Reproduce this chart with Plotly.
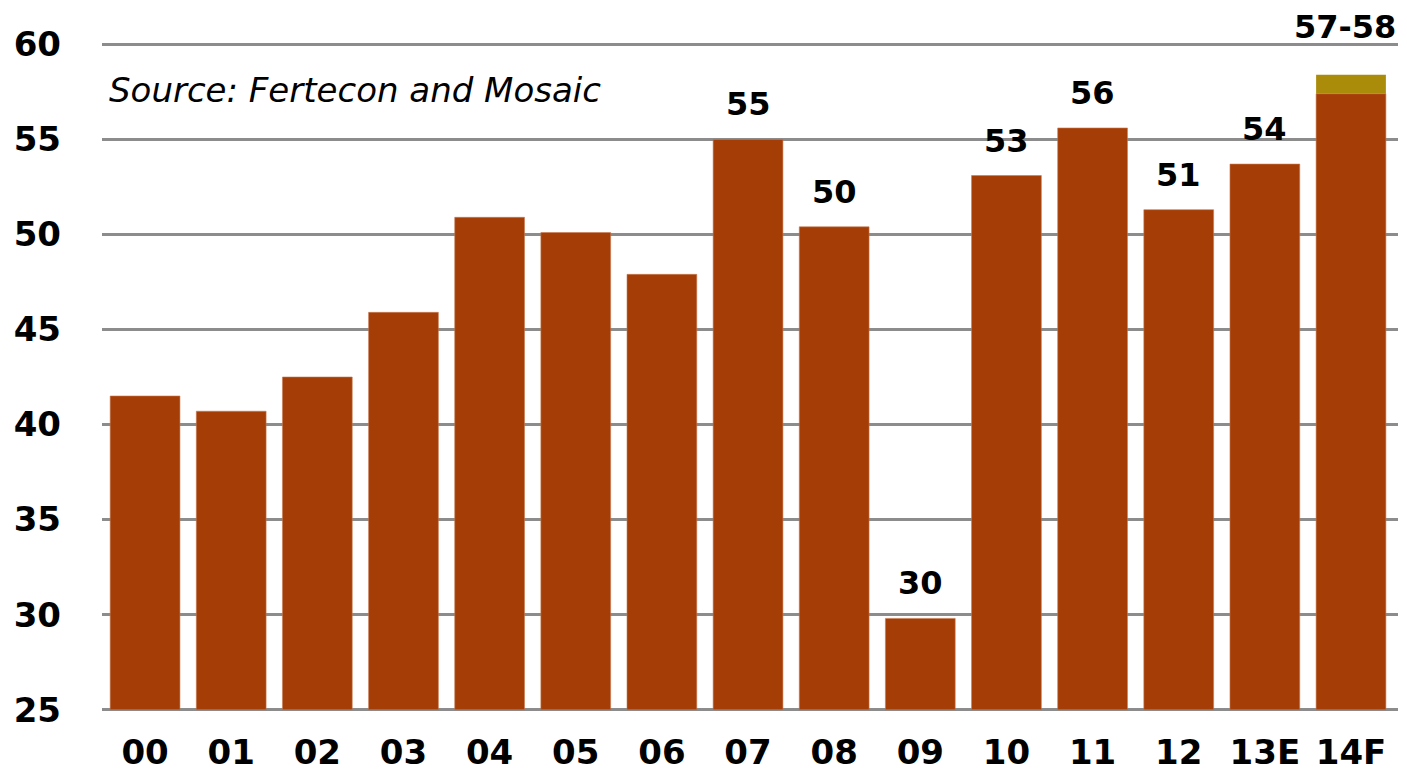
import plotly.graph_objects as go

categories = ["00", "01", "02", "03", "04", "05", "06", "07", "08", "09", "10", "11", "12", "13E", "14F"]
base_values = [41.5, 40.7, 42.5, 45.9, 50.9, 50.1, 47.9, 55.0, 50.4, 29.8, 53.1, 55.6, 51.3, 53.7, 57.4]
range_values = [None] * 14 + [1.0]
label_categories = ["07", "08", "09", "10", "11", "12", "13E", "14F"]
label_values = [55.0, 50.4, 29.8, 53.1, 55.6, 51.3, 53.7, 58.4]
label_texts = ["55", "50", "30", "53", "56", "51", "54", "57-58"]
y_ticks = [25, 30, 35, 40, 45, 50, 55, 60]

BAR = "#A53D06"
GOLD = "#AA8C0A"
GRID = "#8C8C8C"
FONT = "DejaVu Sans, Liberation Sans, Arial, sans-serif"

fig = go.Figure()
fig.add_trace(go.Bar(x=categories, y=[v - 25 for v in base_values], base=25,
                     marker=dict(color=BAR, line=dict(color="#C87850", width=0.6)),
                     hoverinfo="skip"))
fig.add_trace(go.Bar(x=categories, y=range_values,
                     base=[None] * 14 + [base_values[-1]],
                     marker=dict(color=GOLD, line=dict(width=0)),
                     hoverinfo="skip"))

for c, v, t in zip(label_categories, label_values, label_texts):
    fig.add_annotation(x=c, y=v, text="<b>%s</b>" % t, showarrow=False,
                       yanchor="bottom", yshift=(27 if t == "57-58" else 14),
                       xshift=(-6 if t == "57-58" else 0),
                       font=dict(family=FONT, size=32, color="black"))

fig.add_annotation(xref="paper", yref="y", x=0.004, y=57.6, xanchor="left", yanchor="middle",
                   text="<i>Source: Fertecon and Mosaic</i>", showarrow=False,
                   font=dict(family=FONT, size=34, color="black"))

# page body has an 8px margin; figure sized so it ends at the window edge
fig.update_layout(
    width=1399, height=765,
    margin=dict(l=94, r=9, t=35, b=62),
    paper_bgcolor="white", plot_bgcolor="white",
    barmode="overlay", bargap=0.19,
    showlegend=False,
    font=dict(family=FONT, color="black"),
)
fig.update_xaxes(type="category", showgrid=False, ticks="", automargin=False,
                 showline=False,
                 tickfont=dict(family=FONT, size=34, color="black", weight="bold"),
                 ticklabelstandoff=18)
fig.update_yaxes(range=[24.93, 60.07], tickvals=y_ticks, showgrid=True, gridcolor=GRID, gridwidth=3,
                 zeroline=False, showline=False, ticks="", automargin=False,
                 tickfont=dict(family=FONT, size=34, color="black", weight="bold"),
                 ticklabelstandoff=40)

fig.write_html("out.html")
